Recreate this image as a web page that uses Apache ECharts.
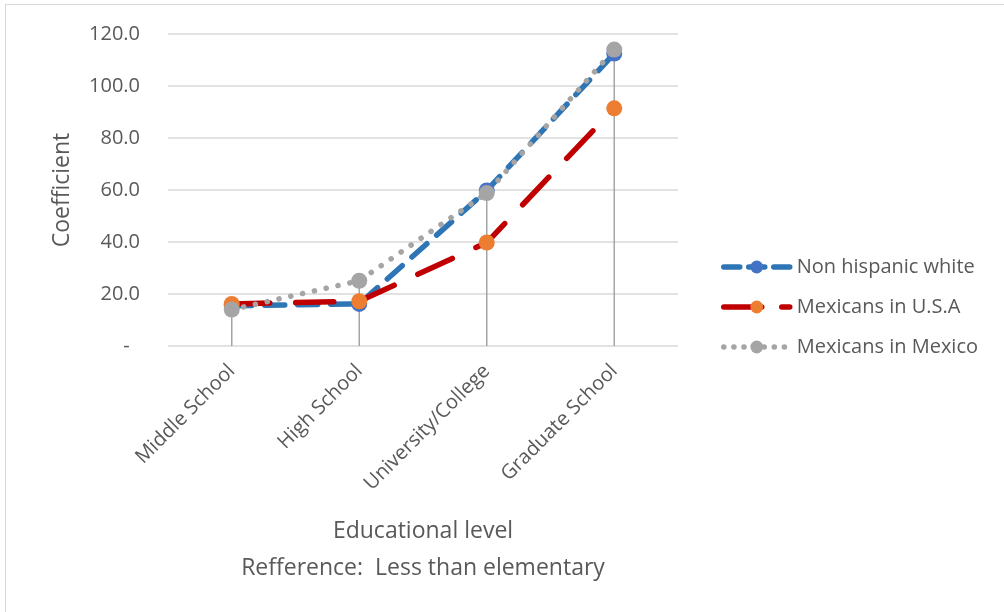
<!DOCTYPE html>
<html>
<head>
<meta charset="utf-8">
<script src="https://cdn.jsdelivr.net/npm/echarts@6/dist/echarts.min.js"></script>
<style>
  html, body { margin: 0; padding: 0; width: 1004px; height: 612px; overflow: hidden; background: #fff; }
  #frame { position: absolute; left: 5px; top: 4px; width: 1020px; height: 630px; border: 1.5px solid #D9D9D9; box-sizing: border-box; }
  #chart { position: absolute; left: 0; top: 0; width: 1004px; height: 612px; }
</style>
</head>
<body>
<div id="frame"></div>
<div id="chart"></div>
<script>
// Education categories along the x axis
const categories = ['Middle School', 'High School', 'University/College', 'Graduate School'];

// Coefficients per group (reference category: less than elementary)
const nonHispanicWhite = [15.5, 16.2, 59.8, 112.5];
const mexicansUSA      = [16.2, 17.2, 39.8, 91.4];
const mexicansMexico   = [14.0, 25.1, 58.8, 114.0];

// Value axis ticks
const yTicks = [0, 20, 40, 60, 80, 100, 120];

// Drop lines run from the highest point in each category down to zero
const dropTops = categories.map((c, i) => Math.max(nonHispanicWhite[i], mexicansUSA[i], mexicansMexico[i]));

const font = '"Open Sans", "Noto Sans", sans-serif';
const textColor = '#595959';

const styles = {
  white:  { line: '#2E75B6', marker: '#4472C4', dash: [20, 13] },
  usa:    { line: '#C00000', marker: '#ED7D31', dash: [38, 26] },
  mexico: { line: '#A5A5A5', marker: '#A5A5A5', dash: [0.1, 12] }
};
const lineWidth = 5.5;

const chart = echarts.init(document.getElementById('chart'), null, { renderer: 'canvas' });

chart.setOption({
  backgroundColor: 'transparent',
  animation: false,
  grid: { left: 168, right: 326, top: 34, bottom: 266 },
  legend: {
    orient: 'vertical',
    left: 716,
    top: 252,
    itemWidth: 66,
    itemHeight: 16,
    itemGap: 20,
    textStyle: { color: textColor, fontSize: 20, fontFamily: font, padding: [0, 0, 0, 2] },
    data: [
      { name: 'Non hispanic white', lineStyle: { width: lineWidth, color: styles.white.line, type: [16, 9] } },
      { name: 'Mexicans in U.S.A', lineStyle: { width: lineWidth, color: styles.usa.line, type: [38, 20] } },
      { name: 'Mexicans in Mexico', lineStyle: { width: lineWidth, color: styles.mexico.line, type: [0.1, 10] } }
    ]
  },
  xAxis: {
    type: 'category',
    data: categories,
    boundaryGap: true,
    axisLine: { show: false },
    axisTick: { show: false },
    axisLabel: { rotate: 45, color: textColor, fontSize: 20, fontFamily: font, margin: 22, interval: 0 },
    name: 'Educational level\nRefference:  Less than elementary',
    nameLocation: 'middle',
    nameGap: 167,
    nameTextStyle: { color: textColor, fontSize: 23, fontFamily: font, lineHeight: 37 }
  },
  yAxis: {
    type: 'value',
    min: yTicks[0],
    max: yTicks[yTicks.length - 1],
    interval: 20,
    axisLine: { show: false },
    axisTick: { show: false },
    splitLine: { lineStyle: { color: '#D9D9D9', width: 1.5 } },
    axisLabel: {
      color: textColor, fontSize: 20, fontFamily: font, margin: 28,
      formatter: v => v === 0 ? '-  ' : v.toFixed(1)
    },
    name: 'Coefficient',
    nameLocation: 'middle',
    nameGap: 94,
    nameTextStyle: { color: textColor, fontSize: 23, fontFamily: font }
  },
  series: [
    {
      type: 'custom',
      name: 'drop',
      silent: true,
      z: 1,
      data: dropTops.map((v, i) => [i, v]),
      renderItem: (params, api) => {
        const top = api.coord([api.value(0), api.value(1)]);
        const base = api.coord([api.value(0), 0]);
        return {
          type: 'line',
          shape: { x1: top[0], y1: top[1], x2: base[0], y2: base[1] },
          style: { stroke: '#A5A5A5', lineWidth: 1.5 }
        };
      }
    },
    {
      name: 'Non hispanic white',
      type: 'line',
      z: 3,
      data: nonHispanicWhite,
      symbol: 'circle',
      symbolSize: 16,
      itemStyle: { color: styles.white.marker },
      lineStyle: { color: styles.white.line, width: lineWidth, type: styles.white.dash, cap: 'round' }
    },
    {
      name: 'Mexicans in U.S.A',
      type: 'line',
      z: 4,
      data: mexicansUSA,
      symbol: 'circle',
      symbolSize: 16,
      itemStyle: { color: styles.usa.marker },
      lineStyle: { color: styles.usa.line, width: lineWidth, type: styles.usa.dash, cap: 'round' }
    },
    {
      name: 'Mexicans in Mexico',
      type: 'line',
      z: 5,
      data: mexicansMexico,
      symbol: 'circle',
      symbolSize: 16,
      itemStyle: { color: styles.mexico.marker },
      lineStyle: { color: styles.mexico.line, width: lineWidth, type: styles.mexico.dash, cap: 'round' }
    }
  ]
});
</script>
</body>
</html>
